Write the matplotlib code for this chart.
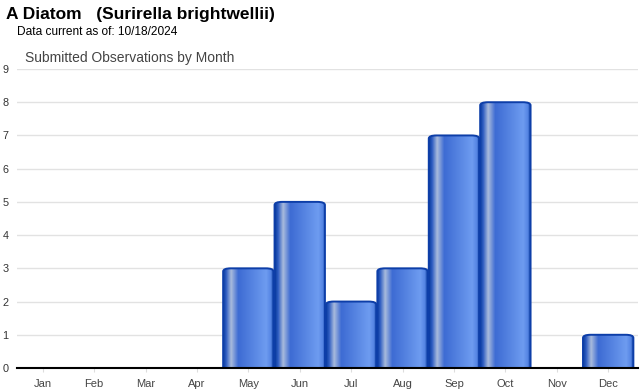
import matplotlib
matplotlib.use("Agg")
import matplotlib.pyplot as plt
import numpy as np
from matplotlib.colors import LinearSegmentedColormap
from matplotlib.patches import FancyBboxPatch

plt.rcParams['font.family'] = ['Liberation Sans', 'DejaVu Sans']

months = ["Jan", "Feb", "Mar", "Apr", "May", "Jun", "Jul", "Aug", "Sep", "Oct", "Nov", "Dec"]
counts = [0, 0, 0, 0, 3, 5, 2, 3, 7, 8, 0, 1]
yticks = list(range(10))

fig = plt.figure(figsize=(6.4, 3.9), dpi=100)
ax = fig.add_axes([17 / 640, 1 - 368 / 390, 621 / 640, 299 / 390])

# horizontal "cylinder" shading for the bars
cmap = LinearSegmentedColormap.from_list("cyl", [
    (0.0, "#0b3c9c"), (0.06, "#2d5cc2"), (0.16, "#a9bbdc"), (0.30, "#3d6bd3"),
    (0.85, "#6e9cf0"), (0.94, "#5585e4"), (1.0, "#0b3c9c")])
grad = np.linspace(0, 1, 256).reshape(1, -1)

w = 0.98
for i, v in enumerate(counts):
    if v <= 0:
        continue
    x0 = i - w / 2
    patch = FancyBboxPatch((x0, -0.4), w, v + 0.4,
                           boxstyle="round,pad=0,rounding_size=0.15",
                           mutation_aspect=0.62,
                           facecolor="none", edgecolor="#0d3ea8", linewidth=1.4, zorder=4)
    ax.add_patch(patch)
    im = ax.imshow(grad, cmap=cmap, extent=[x0, x0 + w, -0.4, v], aspect="auto", zorder=3)
    im.set_clip_path(patch)

ax.set_xlim(-0.5, 11.58)
ax.set_ylim(0, 9)
ax.set_yticks(yticks)
ax.set_yticklabels([str(t) for t in yticks], fontsize=7.8, color="#333333")
ax.set_xticks(range(len(months)))
ax.set_xticklabels(months, fontsize=8, color="#444444")
ax.tick_params(axis="y", length=0, pad=6)
ax.tick_params(axis="x", length=3, color="#dddddd", pad=5)
ax.grid(axis="y", color="#e2e2e2", linewidth=1)
ax.set_axisbelow(True)
for s in ["top", "right", "left"]:
    ax.spines[s].set_visible(False)
ax.spines["bottom"].set_color("black")
ax.spines["bottom"].set_linewidth(1.5)
ax.spines["bottom"].set_zorder(5)

fig.text(6 / 640, 1 - 15 / 390, "A Diatom   (Surirella brightwellii)", fontsize=12.5,
         fontweight="bold", va="center", ha="left")
fig.text(17 / 640, 1 - 32 / 390, "Data current as of: 10/18/2024", fontsize=8.6,
         va="center", ha="left")
fig.text(25 / 640, 1 - 58 / 390, "Submitted Observations by Month", fontsize=10,
         color="#444444", va="center", ha="left")

fig.savefig("out.png", dpi=100)
